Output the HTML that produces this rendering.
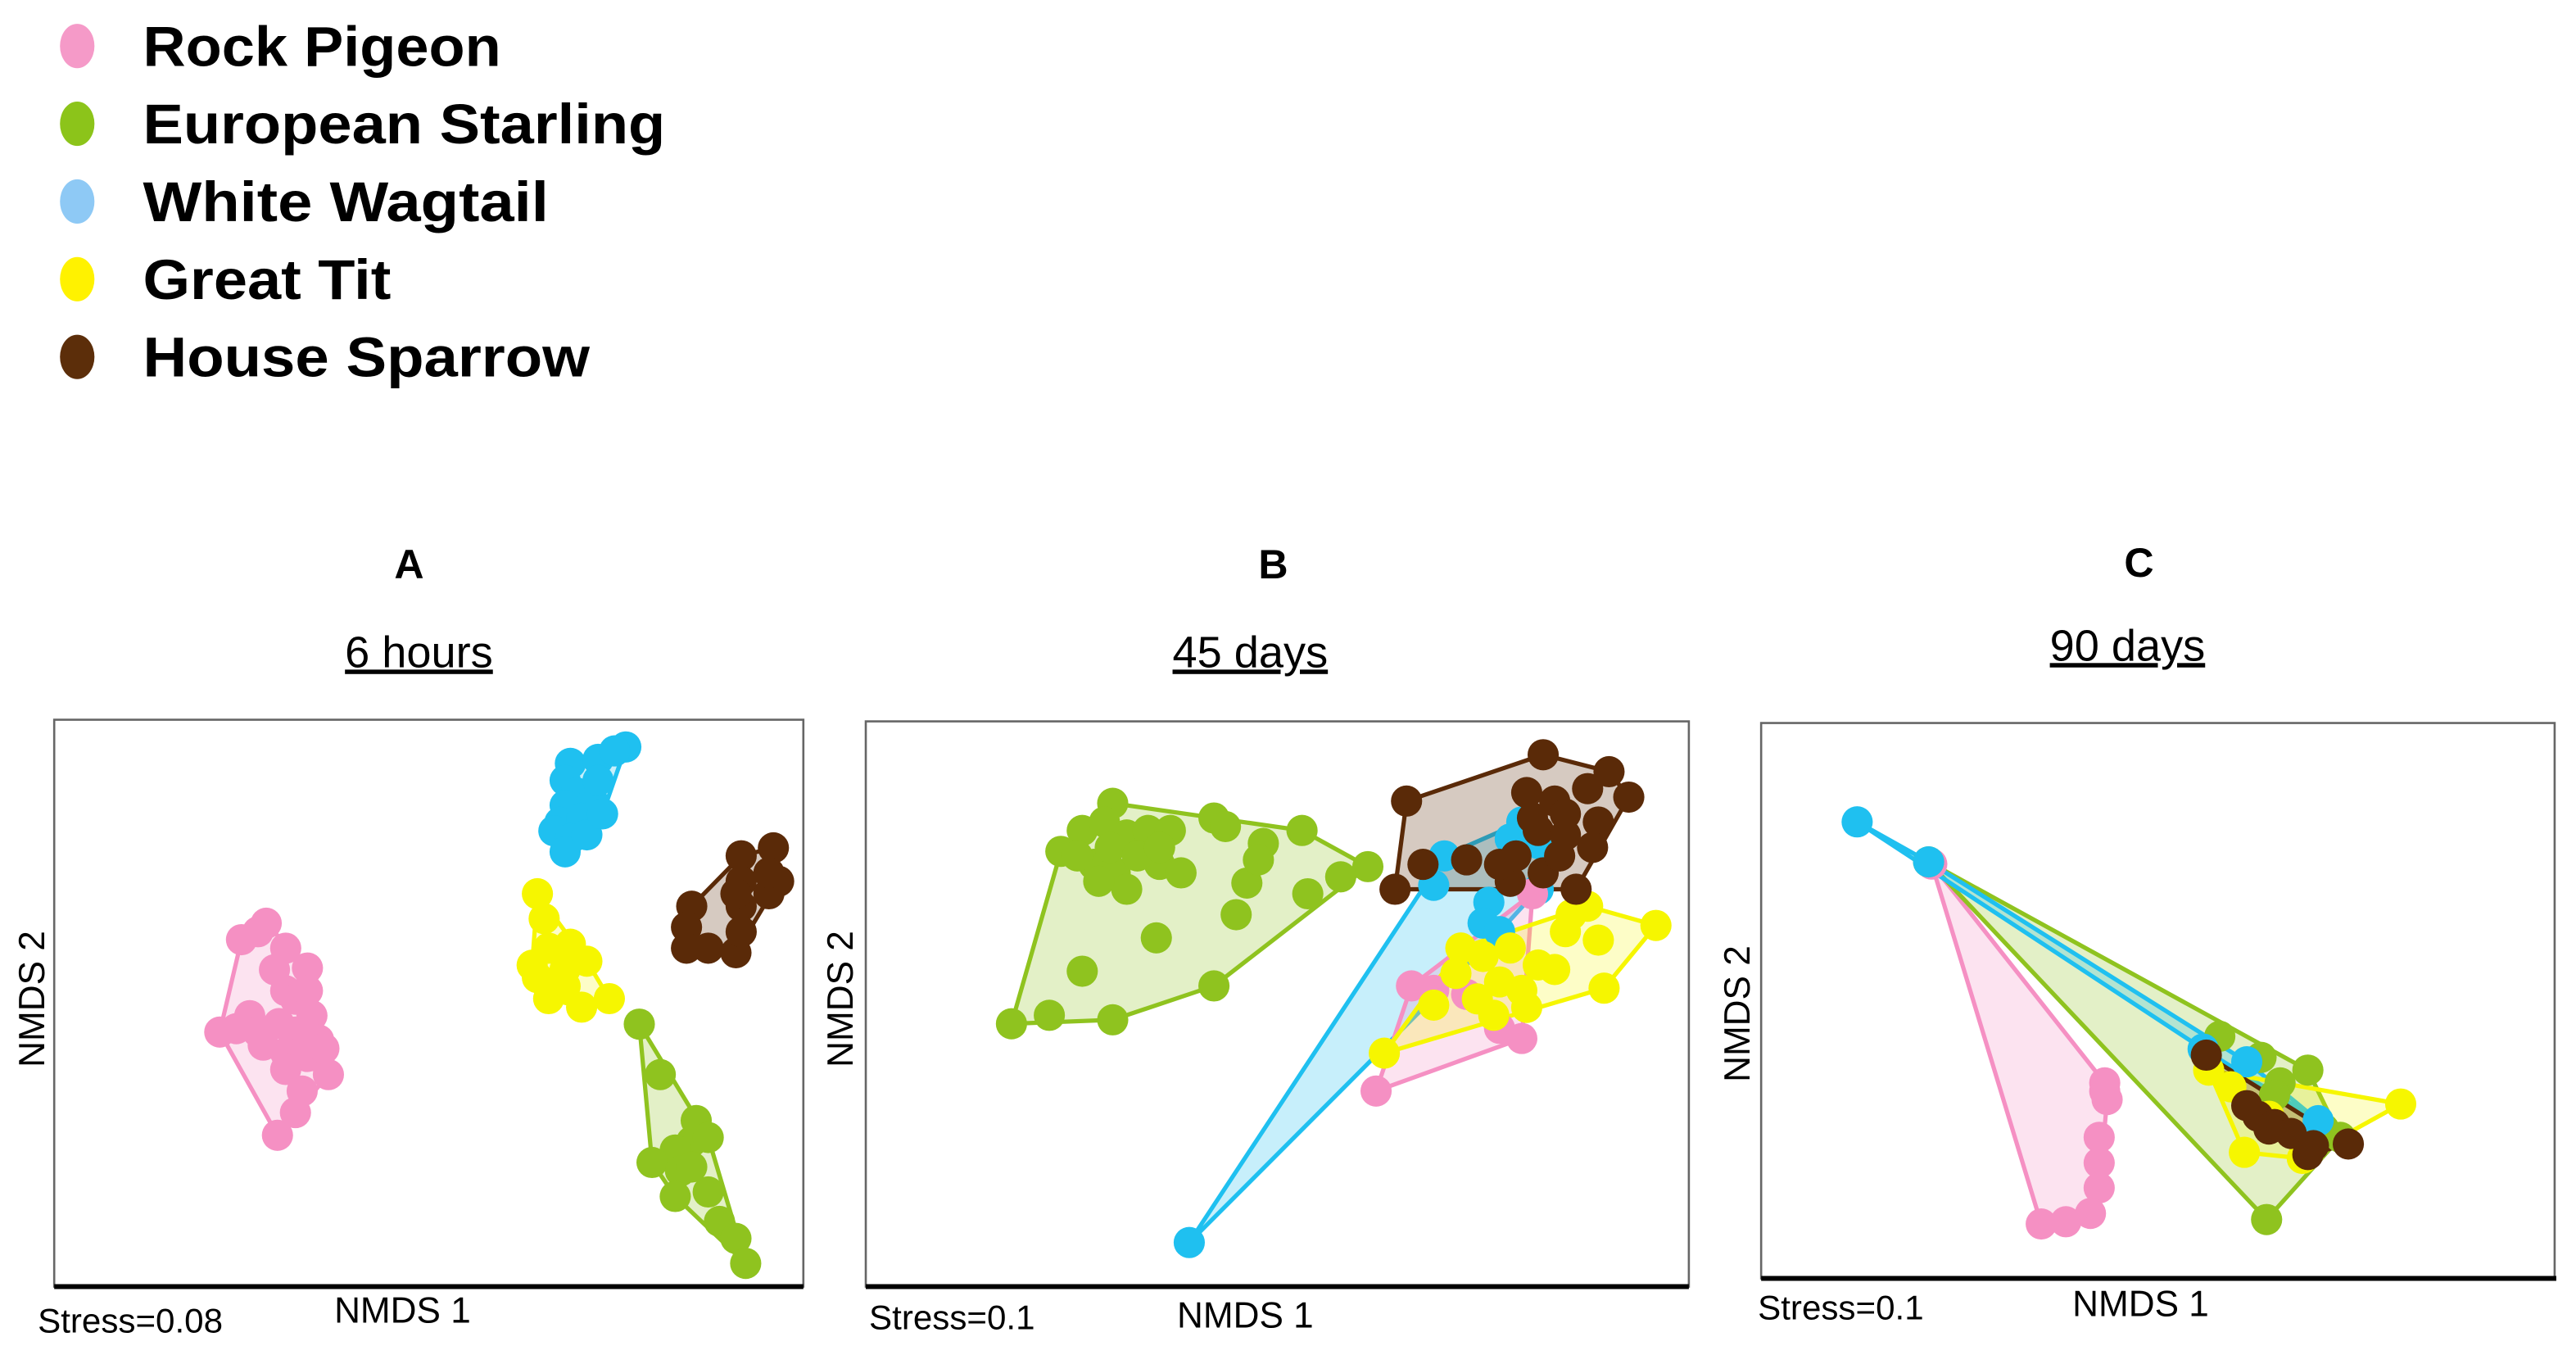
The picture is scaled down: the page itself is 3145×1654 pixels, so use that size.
<!DOCTYPE html>
<html><head><meta charset="utf-8"><style>
html,body{margin:0;padding:0;background:#fff;}
svg{display:block;}
text{font-family:"Liberation Sans",sans-serif;}
</style></head><body>
<svg id="fig" width="3145" height="1654" viewBox="0 0 1568 824.6" xmlns="http://www.w3.org/2000/svg">
<rect width="1568" height="824.6" fill="#fff"/>
<g id="legend"></g>
<g id="panels"></g>
</svg>
<script>
// ---- data (NMDS coordinates, expressed on a 0-100 scale per panel) ----
const species = ["Rock Pigeon","European Starling","White Wagtail","Great Tit","House Sparrow"];
// Panel A - 6 hours
const A_pigeon_x=[28.3,25,27.2,30.9,33.8,29.4,30.9,32.2,26.1,22.1,24.3,27.2,30,32.2,34.4,35.3,30.9,33.8,36.6,30.9,33.1,32.2,29.8,36,27.9,33.8];
const A_pigeon_y=[64.1,61.2,62.6,59.7,56.2,55.9,52.2,50.7,47.8,44.9,45.5,44.9,46.4,44.9,47.8,43.5,41.2,40.6,37.4,38.3,34.5,30.7,26.7,42,42.6,52.2];
const A_starling_x=[78.1,80.9,85.7,85.1,82.9,79.8,83.6,82.9,87.3,88.8,91,92.3,87.3,85.1];
const A_starling_y=[46.3,37.4,29.3,25.6,24.1,21.9,20.4,15.9,16.7,11.5,8.5,4.1,26.3,21.1];
const A_wagtail_x=[68.9,72.6,76.3,74.8,68.2,69.7,71.9,68.2,67.5,70.4,66.7,68.9,68.2,71.1,73.2,72.6];
const A_wagtail_y=[92.3,93,95.2,94.5,89.3,87.1,85.6,84.9,81.9,82.6,80.4,79,76.7,79.7,83.4,89.3];
const A_tit_x=[64.5,65.4,68.9,71.1,63.8,66,64.5,68.2,70.4,74.1,68.2,66];
const A_tit_y=[69.3,64.9,60.4,57.4,56.7,59.7,54.5,53,49.3,50.8,56,50.8];
const A_sparrow_x=[91.7,96,96.7,95.4,91.7,91.7,85.1,84.4,84.4,91,91.7,95.4,87.3,91];
const A_sparrow_y=[76,77.4,71.5,69.3,71.5,67.1,67.1,63.4,59.7,58.9,62.6,73,59.7,69.3];
// Panel B - 45 days
const B_starling_x=[30,42.3,53,61,17.7,22.3,30,42.3,26.3,35.3,45,53.7,57.7,46.3,48.3,47.7,23.7,26.3,29,31.7,34.3,37,27.7,30.3,31.7,35.7,38.3,29.7,33,35.7,43.7,25.7,28.3];
const B_starling_y=[85.5,82.9,80.7,74.3,46.5,48,47.2,53.2,55.8,61.7,65.8,69.5,72.5,71.4,78.4,75.5,77,80.7,82.2,79.9,80.7,80.7,74.7,73.2,70.3,74.7,73.2,77.7,76.2,77.7,81.4,76.2,71.7];
const B_wagtail_x=[39.3,70.3,75.7,75,79.7,78.3,81.7,69,81.7,77];
const B_wagtail_y=[7.8,76.2,68,64.3,82.2,79.2,78.4,71,70.3,62.8];
const B_pigeon_x=[62,79.7,66.3,73,77,69,81];
const B_pigeon_y=[34.6,43.9,53.2,51.7,45.7,52.4,69.5];
const B_tit_x=[96,89.7,87.7,85.7,63,69,72.3,75,78.3,81.7,77,79.7,83.7,76.3,71.7,89,85,80.3,74.3];
const B_tit_y=[63.9,52.8,67.3,65.8,41.3,49.8,59.9,58.4,59.9,56.9,53.9,52.4,56.1,48,55.4,61.3,62.8,49.4,50.9];
const B_sparrow_x=[65.7,82.3,90.3,92.7,86.3,78.3,64.3,67.7,73,77,79,82.3,80.3,83.7,87.7,81.7,85,89,88.3,84.3,81,85];
const B_sparrow_y=[85.9,94.1,91.1,86.6,70.3,71.7,70.3,74.7,75.5,74.7,76.2,73.2,87.4,85.9,88.1,80.7,79.9,82.2,77.7,76.2,82.9,83.6];
// Panel C - 90 days
const C_pigeon_x=[21.5,43.3,43.6,42.6,42.6,42.6,41.5,38.4,35.3,43.3];
const C_pigeon_y=[74.6,35.2,32.2,25.4,20.8,16.3,11.7,10.2,9.8,33.7];
const C_starling_x=[21.1,57.8,68.9,73,63.7,63,65.4,64.7,70.9];
const C_starling_y=[75,43.6,37.5,25.4,10.6,39.8,35.2,33,26.9];
const C_wagtail_x=[12.1,21.1,55.7,61.2,70.2];
const C_wagtail_y=[82.2,75,41.3,39,28.4];
const C_tit_x=[80.6,60.9,68.2,56.4,59.2,64];
const C_tit_y=[31.4,22.7,21.6,37.5,34.5,29.2];
const C_sparrow_x=[56.1,61.2,62.6,64.7,66.8,69.6,68.9,74,64];
const C_sparrow_y=[40.2,31.1,29.2,27.7,26.1,23.9,22.3,24.2,26.9];

// ---- styling ----
const col={pigeon:"#f590c3",starling:"#8fc31f",wagtail:"#1fc0f0",tit:"#f6f600",sparrow:"#5a2a08"};
const fillCol={pigeon:"rgba(245,144,195,0.25)",starling:"rgba(143,195,31,0.25)",wagtail:"rgba(31,192,240,0.25)",tit:"rgba(246,246,0,0.22)",sparrow:"rgba(90,42,8,0.25)"};
const legendCol=["#f59ac8","#8cc41a","#8ec9f5","#fff200","#5c2e0a"];
const legendW=[218,318,247,151,272];
const NS="http://www.w3.org/2000/svg";
function mk(tag,attrs,parent){const e=document.createElementNS(NS,tag);for(const k in attrs)e.setAttribute(k,attrs[k]);parent.appendChild(e);return e;}

// legend
const lg=document.getElementById('legend');
species.forEach((s,i)=>{
  const g=mk('g',{},lg);
  
  
  const y=28+i*47.3;
  const d=mk('ellipse',{cx:47,cy:y,rx:10.5,ry:13.5,fill:legendCol[i]},g);
  
  
  const t=mk('text',{x:87,y:y+12,'font-size':34,'font-weight':'bold',fill:'#000',textLength:legendW[i],lengthAdjust:'spacingAndGlyphs'},g);
  t.textContent=s;
  
  
});

function hull(pts){
  const p=pts.slice().sort((a,b)=>a[0]-b[0]||a[1]-b[1]);
  const cr=(o,a,b)=>(a[0]-o[0])*(b[1]-o[1])-(a[1]-o[1])*(b[0]-o[0]);
  const lo=[],up=[];
  for(const q of p){while(lo.length>=2&&cr(lo[lo.length-2],lo[lo.length-1],q)<=0)lo.pop();lo.push(q);}
  for(let i=p.length-1;i>=0;i--){const q=p[i];while(up.length>=2&&cr(up[up.length-2],up[up.length-1],q)<=0)up.pop();up.push(q);}
  up.pop();lo.pop();return lo.concat(up);
}

const panels=[
 {id:'a',letter:'A',sub:'6 hours',L:33,R:489,T:438,B:783,lx:249,ly:352,sx:255,sy:406,yl:[20,608],xl:[245,805],st:[23,811],stress:'Stress=0.08',axisEnd:489,
  series:[['pigeon',A_pigeon_x,A_pigeon_y],['wagtail',A_wagtail_x,A_wagtail_y],['tit',A_tit_x,A_tit_y],['sparrow',A_sparrow_x,A_sparrow_y],['starling',A_starling_x,A_starling_y]]},
 {id:'b',letter:'B',sub:'45 days',L:527,R:1028,T:439,B:783,lx:775,ly:352,sx:761,sy:406,yl:[512,608],xl:[758,808],st:[529,809],stress:'Stress=0.1',axisEnd:1028,
  series:[['starling',B_starling_x,B_starling_y],['wagtail',B_wagtail_x,B_wagtail_y],['pigeon',B_pigeon_x,B_pigeon_y],['tit',B_tit_x,B_tit_y],['sparrow',B_sparrow_x,B_sparrow_y]]},
 {id:'c',letter:'C',sub:'90 days',L:1072,R:1555,T:440,B:778,lx:1302,ly:351,sx:1295,sy:402,yl:[1058,617],xl:[1303,801],st:[1070,803],stress:'Stress=0.1',axisEnd:1556,
  series:[['pigeon',C_pigeon_x,C_pigeon_y],['starling',C_starling_x,C_starling_y],['wagtail',C_wagtail_x,C_wagtail_y],['tit',C_tit_x,C_tit_y],['sparrow',C_sparrow_x,C_sparrow_y]]}
];
const pg=document.getElementById('panels');
panels.forEach(P=>{
  const g=mk('g',{},pg);
  
  
  const xs=v=>P.L+(P.R-P.L)*v/100;
  const ys=v=>P.B-(P.B-P.T)*v/100;
  const t1=mk('text',{x:P.lx,y:P.ly,'font-size':25,'font-weight':'bold','text-anchor':'middle'},g);t1.textContent=P.letter;
  
  
  const t2=mk('text',{x:P.sx,y:P.sy,'font-size':27,'text-anchor':'middle','text-decoration':'underline'},g);t2.textContent=P.sub;
  
  
  const frame=mk('rect',{x:P.L,y:P.T,width:P.R-P.L,height:P.B-P.T,fill:'none',stroke:'#666','stroke-width':1.3},g);
  
  
  const ax=mk('line',{x1:P.L,x2:P.axisEnd,y1:P.B,y2:P.B,stroke:'#000','stroke-width':3},g);
  
  
  const yl=mk('text',{x:P.yl[0],y:P.yl[1],'font-size':22,'text-anchor':'middle',transform:`rotate(-90 ${P.yl[0]} ${P.yl[1]})`,dy:7},g);yl.textContent='NMDS 2';
  
  
  const xl=mk('text',{x:P.xl[0],y:P.xl[1],'font-size':22,'text-anchor':'middle'},g);xl.textContent='NMDS 1';
  
  
  const st=mk('text',{x:P.st[0],y:P.st[1],'font-size':21},g);st.textContent=P.stress;
  
  
  // hulls
  P.series.forEach(([k,X,Y])=>{
    const pts=hull(X.map((v,i)=>[xs(v),ys(Y[i])]));
    const poly=mk('polygon',{points:pts.map(p=>p.join(',')).join(' '),fill:fillCol[k],stroke:col[k],'stroke-width':2.6,'stroke-linejoin':'round'},g);
    
    
  });
  // points
  P.series.forEach(([k,X,Y])=>{
    const sg=mk('g',{},g);
    
    
    X.forEach((v,i)=>{
      const c=mk('circle',{cx:xs(v),cy:ys(Y[i]),r:9.5,fill:col[k]},sg);
      
      
    });
  });
});
</script>
</body></html>
